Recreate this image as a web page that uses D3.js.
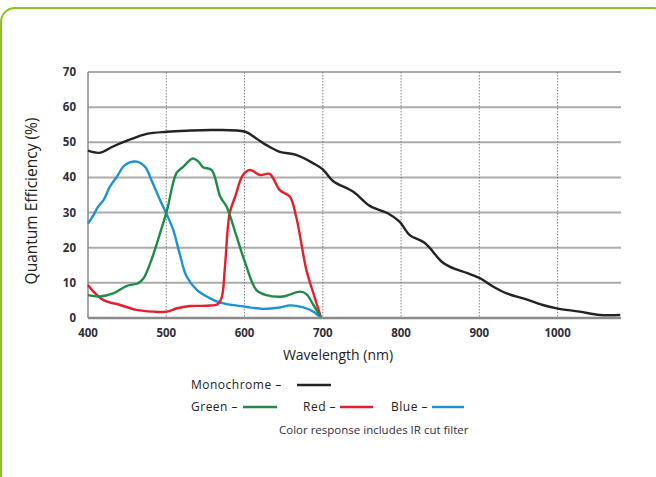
<!DOCTYPE html>
<html>
<head>
<meta charset="utf-8">
<script src="https://cdn.jsdelivr.net/npm/d3@7"></script>
<style>
  body { margin: 0; background: #fff; }
  svg { display: block; font-family: "Open Sans", "Noto Sans", sans-serif; }
  .tick-label { font-size: 11.5px; font-weight: bold; fill: #2f2f38; }
  .axis-title { fill: #222; }
  .legend-text { font-size: 12px; letter-spacing: 0.5px; fill: #222; }
</style>
</head>
<body>
<svg id="chart" width="656" height="477"></svg>
<script>
// wavelength ticks and efficiency ticks
var xTicks = [400, 500, 600, 700, 800, 900, 1000];
var yTicks = [0, 10, 20, 30, 40, 50, 60, 70];

// quantum efficiency curves: [wavelength nm, QE %]
var monoData = [[400,47.6],[415,47.0],[432,48.8],[454,50.8],[475,52.4],[501,53.0],[526,53.3],[560,53.5],[601,53.0],
  [615,51.1],[628,49.2],[645,47.3],[666,46.4],[688,44.0],[700,42.3],[713,39.0],[739,35.9],[760,31.9],[783,29.8],
  [798,27.4],[811,23.6],[830,21.4],[852,16.0],[862,14.6],[888,12.5],[901,11.3],[918,8.9],[935,7.0],[960,5.3],
  [981,3.7],[999,2.75],[1028,1.8],[1054,0.85],[1080,0.85]];
var greenData = [[400,6.5],[415,6.1],[432,7.0],[449,9.1],[464,9.9],[471,11.3],[481,16.5],[492,24.1],[501,30.7],
  [513,41.2],[522,43.1],[534,45.4],[541,44.5],[547,42.9],[558,42.1],[569,34.5],[577,31.7],[590,23.1],[601,15.6],
  [615,8.0],[628,6.5],[649,6.1],[671,7.5],[679,6.8],[688,3.7],[698,0]];
var redData = [[400,9.4],[407,7.5],[420,5.1],[441,3.7],[462,2.3],[483,1.8],[501,1.8],[513,2.7],[530,3.4],[552,3.5],
  [566,4.0],[571,6.0],[575,14.6],[581,29.8],[588,34.5],[598,40.7],[607,42.1],[620,40.7],[632,41.0],[645,36.4],
  [658,34.5],[666,28.8],[679,13.7],[688,7.0],[698,0]];
var blueData = [[400,26.9],[407,29.3],[413,31.7],[420,33.6],[428,37.4],[437,40.2],[447,43.5],[462,44.5],[473,43.0],
  [481,39.3],[492,33.6],[501,29.3],[509,25.0],[517,18.4],[526,11.8],[539,8.0],[556,5.6],[569,4.4],[601,3.2],
  [624,2.6],[645,3.0],[658,3.6],[675,3.0],[688,1.8],[698,0]];

var series = [
  {name: "Monochrome", data: monoData, color: "#232323"},
  {name: "Green", data: greenData, color: "#1e8c48"},
  {name: "Red", data: redData, color: "#e51e2b"},
  {name: "Blue", data: blueData, color: "#1b92d1"}
];

var svg = d3.select("#chart");

// green rounded frame
svg.append("rect")
  .attr("x", 1).attr("y", 8)
  .attr("width", 666).attr("height", 490)
  .attr("rx", 14).attr("ry", 14)
  .style("fill", "none")
  .style("stroke", "#8cc21e")
  .style("stroke-width", 2);

var margin = {top: 72, left: 88},
    width = 533,
    height = 246;

var g = svg.append("g").attr("transform", "translate(" + margin.left + "," + margin.top + ")");

var x = d3.scaleLinear().domain([400, 1081]).range([0, width]);
var y = d3.scaleLinear().domain([0, 70]).range([height, 0]);

// horizontal grid
g.selectAll(".hgrid")
  .data(yTicks.filter(function(d){ return d > 0; }))
  .enter().append("line")
  .attr("x1", 0).attr("x2", width)
  .attr("y1", function(d){ return y(d); })
  .attr("y2", function(d){ return y(d); })
  .style("stroke", "#ababab")
  .style("stroke-width", 2);

// vertical dotted grid
g.selectAll(".vgrid")
  .data(xTicks.filter(function(d){ return d > 400; }))
  .enter().append("line")
  .attr("x1", function(d){ return x(d); })
  .attr("x2", function(d){ return x(d); })
  .attr("y1", 0).attr("y2", height)
  .style("stroke", "#666")
  .style("stroke-width", 0.8)
  .style("stroke-dasharray", "1.5,1.5");

// left axis line
g.append("line")
  .attr("x1", 0).attr("x2", 0).attr("y1", y(70)).attr("y2", y(0))
  .style("stroke", "#8a8a8a").style("stroke-width", 1.5);

// curves
var line = d3.line()
  .x(function(d){ return x(d[0]); })
  .y(function(d){ return y(d[1]); })
  .curve(d3.curveCatmullRom.alpha(0.5));

series.slice().reverse().forEach(function(s){
  g.append("path")
    .datum(s.data)
    .attr("d", line)
    .style("fill", "none")
    .style("stroke", s.color)
    .style("stroke-width", 2.4)
    .style("stroke-linejoin", "round");
});

// bottom axis line
g.append("line")
  .attr("x1", 0).attr("x2", width).attr("y1", y(0)).attr("y2", y(0))
  .style("stroke", "#8a8a8a").style("stroke-width", 2.5);

// tick labels
g.selectAll(".ylab")
  .data(yTicks)
  .enter().append("text")
  .attr("class", "tick-label")
  .attr("x", -12)
  .attr("y", function(d){ return y(d) + 4; })
  .style("text-anchor", "end")
  .text(function(d){ return d; });

g.selectAll(".xlab")
  .data(xTicks)
  .enter().append("text")
  .attr("class", "tick-label")
  .attr("x", function(d){ return x(d); })
  .attr("y", height + 19)
  .style("text-anchor", "middle")
  .text(function(d){ return d; });

// axis titles
svg.append("text")
  .attr("class", "axis-title")
  .attr("transform", "translate(37,201) rotate(-90)")
  .style("text-anchor", "middle")
  .style("font-size", "15.5px")
  .text("Quantum Efficiency (%)");

svg.append("text")
  .attr("class", "axis-title")
  .attr("x", 338).attr("y", 360)
  .style("text-anchor", "middle")
  .style("font-size", "14px")
  .text("Wavelength (nm)");

// legend
var legendPos = [
  {tx: 191, ly: 385, x1: 297, x2: 331},
  {tx: 191, ly: 407, x1: 243, x2: 277},
  {tx: 303, ly: 407, x1: 340, x2: 373},
  {tx: 391, ly: 407, x1: 432, x2: 464}
];
series.forEach(function(s, i){
  var p = legendPos[i];
  svg.append("text")
    .attr("class", "legend-text")
    .attr("x", p.tx).attr("y", p.ly + 4)
    .text(s.name + " \u2013");
  svg.append("line")
    .attr("x1", p.x1).attr("x2", p.x2)
    .attr("y1", p.ly).attr("y2", p.ly)
    .style("stroke", s.color).style("stroke-width", 2.4);
});

svg.append("text")
  .attr("x", 279).attr("y", 434)
  .style("font-size", "11.5px")
  .style("fill", "#2f2f45")
  .text("Color response includes IR cut filter");
</script>
</body>
</html>
